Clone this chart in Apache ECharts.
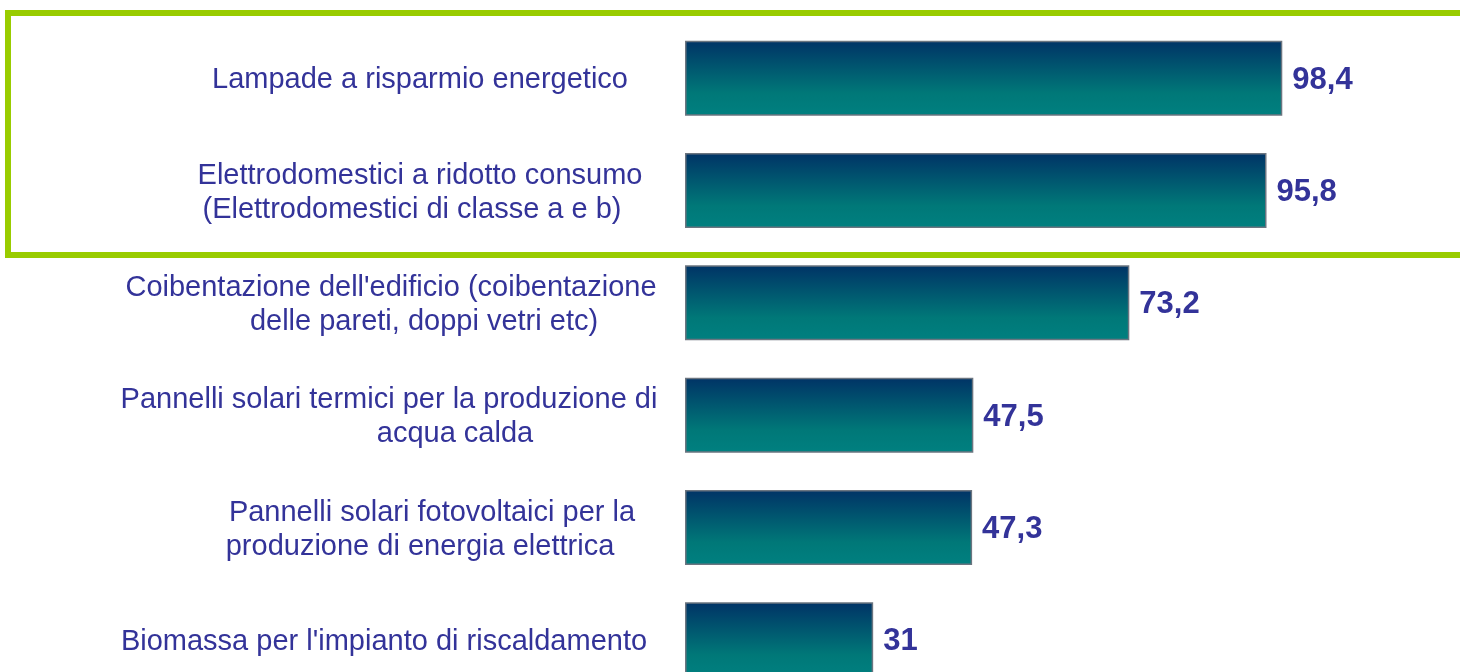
<!DOCTYPE html>
<html>
<head>
<meta charset="utf-8">
<script src="https://cdn.jsdelivr.net/npm/echarts@6/dist/echarts.min.js"></script>
<style>
  html, body { margin: 0; padding: 0; background: #fff; }
  #chart { width: 1460px; height: 672px; }
</style>
</head>
<body>
<div id="chart"></div>
<script>
const categories = [
    'Lampade a risparmio energetico',
    'Elettrodomestici a ridotto consumo\n(Elettrodomestici di classe a e b)',
    "Coibentazione dell'edificio (coibentazione\ndelle pareti, doppi vetri etc)",
    'Pannelli solari termici per la produzione di\nacqua calda',
    'Pannelli solari fotovoltaici per la\nproduzione di energia elettrica',
    "Biomassa per l'impianto di riscaldamento"
];
const values = [98.4, 95.8, 73.2, 47.5, 47.3, 31];

// horizontal nudge (px) of each label line, to follow the original's uneven centring
const lineShift = [[0], [0, -8], [-29, 4], [-31, 35], [12, 0], [-36]];

const textColor = '#333399';
const fontFamily = '"Liberation Sans", Arial, sans-serif';

const rich = {};
lineShift.forEach((shifts, i) => {
    shifts.forEach((s, j) => {
        rich['l' + i + '_' + j] = {
            fontSize: 29,
            color: textColor,
            fontFamily: fontFamily,
            lineHeight: 34,
            padding: s >= 0 ? [0, 0, 0, 2 * s] : [0, -2 * s, 0, 0]
        };
    });
});

const chart = echarts.init(document.getElementById('chart'));

const option = {
    animation: false,
    backgroundColor: '#fff',
    grid: {
        left: 685, top: 22, width: 607, height: 674,
        containLabel: false,
        outerBoundsMode: 'none'
    },
    xAxis: {
        type: 'value',
        min: 0,
        max: 100,
        show: false
    },
    yAxis: {
        type: 'category',
        inverse: true,
        data: categories,
        axisLine: { show: false },
        axisTick: { show: false },
        splitLine: { show: false },
        axisLabel: {
            align: 'center',
            margin: 265,
            padding: [4, 0, 0, 0],
            formatter: (value, index) => value.split('\n')
                .map((line, j) => '{l' + index + '_' + j + '|' + line + '}')
                .join('\n'),
            rich: rich
        }
    },
    graphic: [{
        type: 'rect',
        silent: true,
        z: -1,
        shape: { x: 8, y: 13, width: 1480, height: 242 },
        style: { fill: 'none', stroke: '#99cc00', lineWidth: 6 }
    }],
    series: [{
        type: 'bar',
        data: values,
        barWidth: 75,
        itemStyle: {
            color: new echarts.graphic.LinearGradient(0, 0, 0, 1, [
                { offset: 0, color: '#003366' },
                { offset: 0.7, color: '#007878' },
                { offset: 1, color: '#008080' }
            ]),
            borderColor: '#6b7580',
            borderWidth: 1.5
        },
        label: {
            show: true,
            position: 'right',
            distance: 10,
            offset: [0, 2],
            fontSize: 31,
            fontWeight: 'bold',
            color: textColor,
            fontFamily: fontFamily,
            formatter: p => String(p.value).replace('.', ',')
        }
    }]
};

chart.setOption(option);
</script>
</body>
</html>
